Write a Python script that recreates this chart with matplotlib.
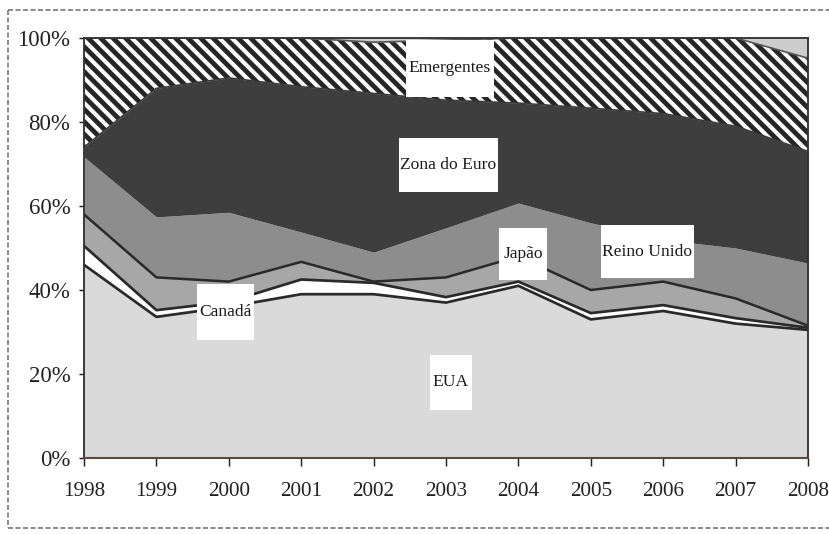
import matplotlib
matplotlib.use("Agg")
import matplotlib.pyplot as plt
from matplotlib.patches import Rectangle
from matplotlib.lines import Line2D
import numpy as np

years = [1998, 1999, 2000, 2001, 2002, 2003, 2004, 2005, 2006, 2007, 2008]
eua = [46.0, 33.6, 36.0, 39.0, 39.0, 37.0, 41.0, 33.0, 35.0, 32.0, 30.5]
canada = [4.5, 1.6, 1.2, 3.5, 2.7, 1.3, 1.0, 1.5, 1.4, 1.3, 0.5]
japao = [7.5, 7.8, 4.8, 4.2, 0.3, 4.7, 6.0, 5.5, 5.6, 4.7, 0.5]
reino_unido = [13.7, 14.4, 16.5, 7.1, 7.0, 11.8, 12.7, 16.0, 10.0, 12.0, 14.9]
zona_euro = [2.3, 30.6, 32.0, 34.6, 37.8, 30.4, 23.8, 27.3, 30.0, 29.0, 26.6]
emergentes = [26.0, 12.0, 9.5, 11.6, 12.2, 14.3, 15.5, 16.7, 18.0, 21.0, 22.2]
outros = [0.0, 0.0, 0.0, 0.0, 1.0, 0.5, 0.0, 0.0, 0.0, 0.0, 4.8]
y_ticks = [0, 20, 40, 60, 80, 100]
y_ticklabels = ["0%", "20%", "40%", "60%", "80%", "100%"]

DPI = 150
W, H = 829, 534
plt.rcParams['font.family'] = ['Liberation Serif', 'DejaVu Serif']
plt.rcParams['hatch.linewidth'] = 2.3
plt.rcParams['hatch.color'] = '#262626'

fig = plt.figure(figsize=(W / DPI, H / DPI), dpi=DPI)
ax = fig.add_axes([84 / W, 1 - 458 / H, (808 - 84) / W, (458 - 38) / H])

x = np.array(years)
layers = [
    (eua, '#dadada', None),
    (canada, '#ffffff', None),
    (japao, '#a7a7a7', None),
    (reino_unido, '#8d8d8d', None),
    (zona_euro, '#3e3e3e', None),
    (emergentes, '#ffffff', '\\\\\\\\'),
    (outros, '#cdcdcd', None),
]
base = np.zeros(len(years))
tops = []
for vals, col, hatch in layers:
    top = base + np.array(vals)
    ax.fill_between(x, base, top, facecolor=col, edgecolor='#262626' if hatch else col,
                    hatch=hatch, linewidth=0, zorder=2)
    tops.append(top)
    base = top

# boundary lines
for i, lw in [(0, 1.3), (1, 1.3), (2, 1.2)]:
    ax.plot(x, tops[i], color='#2a2a2a', linewidth=lw, zorder=3)
ax.plot(x, tops[4], color='#3a3a3a', linewidth=0.8, zorder=3)
ax.plot(x, tops[5], color='#555555', linewidth=0.8, zorder=3)

ax.set_xlim(1998, 2008)
ax.set_ylim(0, 100)
ax.set_xticks(years)
ax.set_xticklabels([str(y) for y in years], fontsize=10.2)
ax.set_yticks(y_ticks)
ax.set_yticklabels(y_ticklabels, fontsize=11)
ax.tick_params(axis='x', direction='out', length=3.8, width=0.7, pad=7.5, colors='#222222')
ax.tick_params(axis='y', direction='out', length=2.5, width=0.7, pad=4, colors='#222222')
for s in ['left', 'right', 'top']:
    ax.spines[s].set_color('#333333')
    ax.spines[s].set_linewidth(0.9)
ax.spines['bottom'].set_color('#5a4a40')
ax.spines['bottom'].set_linewidth(1.0)
for s in ax.spines.values():
    s.set_zorder(5)

def px_x(px):
    return 1998 + (px - 84) / 72.4

def px_y(py):
    return (458 - py) / 4.2

labels = [
    ("Emergentes", 406, 494, 40, 97),
    ("Zona do Euro", 399, 498, 138, 192),
    ("Japão", 499, 547, 228, 280),
    ("Reino Unido", 601, 694, 225, 278),
    ("Canadá", 197, 254, 284, 340),
    ("EUA", 430, 472, 355, 410),
]
for txt, x0, x1, y0, y1 in labels:
    ax.add_patch(Rectangle((px_x(x0), px_y(y1)), px_x(x1) - px_x(x0), px_y(y0) - px_y(y1),
                           facecolor='white', edgecolor='none', zorder=6))
    ax.text((px_x(x0) + px_x(x1)) / 2, (px_y(y0) + px_y(y1)) / 2, txt,
            ha='center', va='center', fontsize=8.4, color='#1a1a1a', zorder=7)

# outer dashed border
border_kw = dict(color='#777777', linewidth=0.8, linestyle=(0, (3, 1.5)), transform=fig.transFigure)
fig.add_artist(Line2D([8 / W, 1.0], [1 - 10 / H, 1 - 10 / H], **border_kw))
fig.add_artist(Line2D([8 / W, 8 / W], [1 - 10 / H, 1 - 528 / H], **border_kw))
fig.add_artist(Line2D([8 / W, 1.0], [1 - 528 / H, 1 - 528 / H], **border_kw))

fig.savefig('out.png', dpi=DPI)
